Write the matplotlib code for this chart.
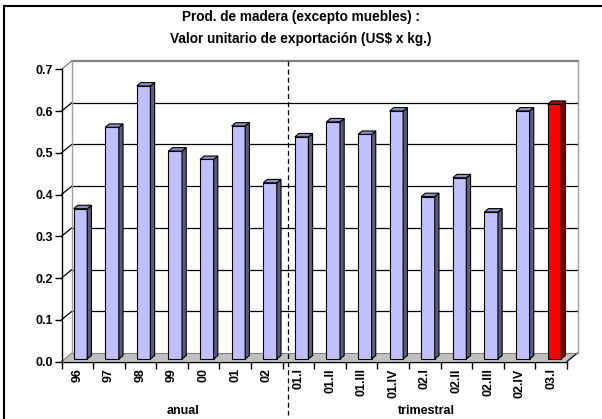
import numpy as np
import matplotlib.pyplot as plt
from matplotlib.patches import Polygon
from matplotlib.lines import Line2D

plt.rcParams['font.family'] = ['Liberation Sans', 'DejaVu Sans']

# data
categories = ['96', '97', '98', '99', '00', '01', '02',
              '01.I', '01.II', '01.III', '01.IV',
              '02.I', '02.II', '02.III', '02.IV', '03.I']
values = [0.36, 0.555, 0.654, 0.498, 0.478, 0.558, 0.422,
          0.532, 0.568, 0.538, 0.594,
          0.389, 0.434, 0.352, 0.594, 0.610]
highlight = '03.I'
yticks = [0.0, 0.1, 0.2, 0.3, 0.4, 0.5, 0.6, 0.7]
n_annual = 7
title = 'Prod. de madera (excepto muebles) :\nValor unitario de exportación (US$ x kg.)'

W, H = 602, 419
fig = plt.figure(figsize=(W / 100, H / 100), dpi=100)

# front plane of the 3d box, in pixels
x0, x1 = 61.5, 567.0
y_bot, y_top = 361.5, 69.3
ax = fig.add_axes([x0 / W, 1 - y_bot / H, (x1 - x0) / W, (y_bot - y_top) / H])
n = len(categories)
ax.set_xlim(0, n)
ax.set_ylim(0, 0.7)
ax.patch.set_visible(False)

# depth vector (pixels -> data units)
depth_px = np.array([10.5, 8.5])
ppu = ax.transData.transform((1, 1)) - ax.transData.transform((0, 0))
ddx, ddy = depth_px / ppu

def pg(pts, fc, ec='black', lw=0.8, z=2):
    ax.add_patch(Polygon(pts, closed=True, facecolor=fc, edgecolor=ec,
                         linewidth=lw, zorder=z, clip_on=False))

# floor
pg([(0, 0), (n, 0), (n + ddx, ddy), (ddx, ddy)], '#c0c0c0', ec='none', z=1)
ax.plot([n, n + ddx], [0, ddy], color='black', lw=0.9, clip_on=False, zorder=1)
ax.plot([ddx, n + ddx], [ddy, ddy], color='#808080', lw=0.8, clip_on=False, zorder=1)

# back wall gridlines and side wall diagonals
for t in yticks[1:-1]:
    ax.plot([ddx, n + ddx], [t + ddy, t + ddy], color='black', lw=0.9, clip_on=False, zorder=1)
    ax.plot([0, ddx], [t, t + ddy], color='black', lw=0.9, clip_on=False, zorder=1)
ax.plot([0, ddx], [0, ddy], color='#808080', lw=0.8, clip_on=False, zorder=1)
ax.plot([0, ddx], [0.7, 0.7 + ddy], color='#808080', lw=0.9, clip_on=False, zorder=1)
ax.plot([ddx, n + ddx], [0.7 + ddy, 0.7 + ddy], color='#808080', lw=1.6, clip_on=False, zorder=1)
ax.plot([ddx, ddx], [ddy, 0.7 + ddy], color='#a0a0a0', lw=1.0, clip_on=False, zorder=1)
ax.plot([n + ddx, n + ddx], [ddy, 0.7 + ddy], color='#a0a0a0', lw=1.0, clip_on=False, zorder=1)

# bars
bw = 0.43
f0, f1 = 0.3, 0.7
for i, (c, v) in enumerate(zip(categories, values)):
    if c == highlight:
        front, side, top = '#ff0000', '#800000', '#c00000'
    else:
        front, side, top = '#c0c0ff', '#5c5c7c', '#9090c0'
    xl = i + 0.5 - bw / 2 + f0 * ddx
    xr = xl + bw
    yb = f0 * ddy
    yt = v + f0 * ddy
    dx, dy = (f1 - f0) * ddx, (f1 - f0) * ddy
    pg([(xl, yb), (xr, yb), (xr, yt), (xl, yt)], front, z=3)
    pg([(xr, yb), (xr + dx, yb + dy), (xr + dx, yt + dy), (xr, yt)], side, z=3)
    pg([(xl, yt), (xr, yt), (xr + dx, yt + dy), (xl + dx, yt + dy)], top, z=3)

# divider between annual and quarterly
ax.plot([n_annual + ddx / 2] * 2, [0.7 + ddy, -0.128], color='black', lw=0.9,
        ls=(0, (4, 2.5)), clip_on=False, zorder=4)

# axes
for s in ['top', 'right']:
    ax.spines[s].set_visible(False)
ax.spines['left'].set_linewidth(1.0)
ax.spines['bottom'].set_linewidth(1.0)
ax.spines['left'].set_zorder(5)
ax.spines['bottom'].set_zorder(5)
ax.set_yticks(yticks)
ax.set_yticklabels([f'{t:.1f}' for t in yticks], fontsize=9, fontweight='bold')
ax.tick_params(axis='y', length=5, width=1, pad=1)
ax.set_xticks(np.arange(n + 1))
ax.set_xticklabels([])
ax.tick_params(axis='x', which='major', length=5, width=1)
ax.set_xticks(np.arange(n) + 0.5, minor=True)
ax.set_xticklabels(categories, minor=True, rotation=90, fontsize=9, fontweight='bold')
ax.tick_params(axis='x', which='minor', length=0, pad=5)

ax.text(3.85, -0.118, 'anual', ha='center', va='center', fontsize=9, fontweight='bold')
ax.text(11.55, -0.118, 'trimestral', ha='center', va='center', fontsize=9, fontweight='bold')

fig.text(0.5, 1 - 28 / H, title, ha='center', va='center', fontsize=9.8,
         fontweight='bold', linespacing=1.7)

# outer frame (top and left edges visible)
fig.add_artist(Line2D([3.5 / W, 3.5 / W], [0, 1 - 6 / H], color='black', lw=1.5))
fig.add_artist(Line2D([3.5 / W, 1], [1 - 6 / H, 1 - 6 / H], color='black', lw=1.5))

fig.savefig('out.png', dpi=100)
